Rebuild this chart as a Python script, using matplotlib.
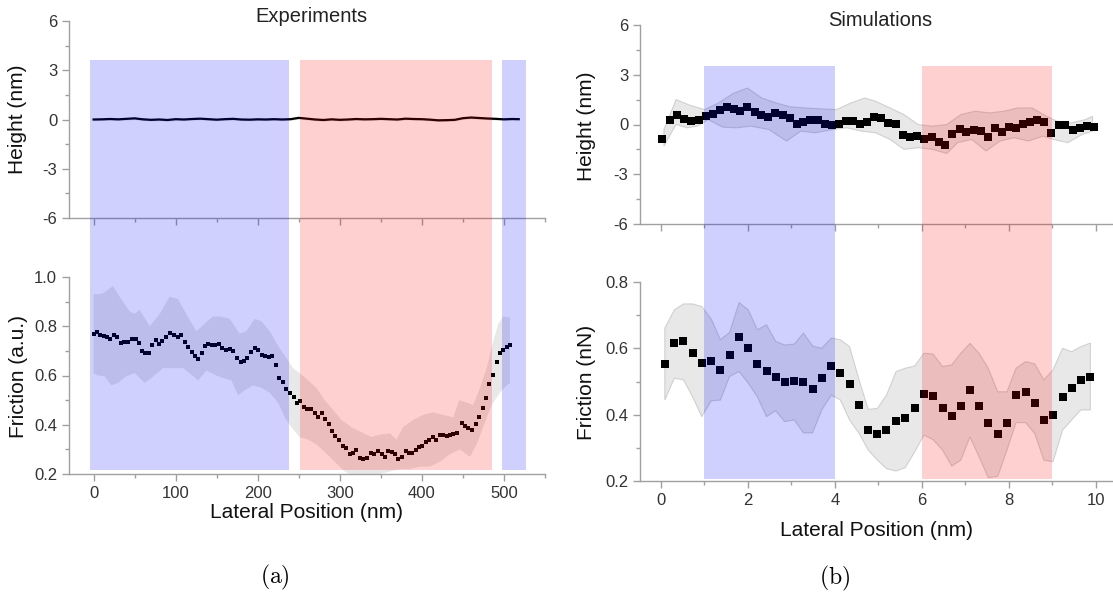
import matplotlib
matplotlib.use("Agg")
import matplotlib.pyplot as plt
from matplotlib.ticker import MultipleLocator
import numpy as np

plt.rcParams.update({
    "font.family": ["Liberation Sans", "DejaVu Sans"],
    "font.size": 12,
    "axes.linewidth": 1.0,
    "axes.edgecolor": "#a0a0a0",
    "axes.unicode_minus": False,
    "xtick.color": "#a0a0a0",
    "ytick.color": "#a0a0a0",
    "xtick.labelcolor": "#333333",
    "ytick.labelcolor": "#333333",
    "xtick.direction": "out",
    "ytick.direction": "out",
    "mathtext.fontset": "cm",
})

W, H = 1113, 592
BLUE = "#0000ff"
RED = "#ff0000"
SPAN_ALPHA = 0.185
BAND_FC = "#c4c4c4"

# ---- Experiments -------------------------------------------------------------
exp_h_x = [0, 10, 20, 30, 40, 50, 60, 70, 80, 90, 100, 110, 120, 130, 140, 150,
           160, 170, 180, 190, 200, 210, 220, 230, 240, 250, 260, 270, 280, 290,
           300, 310, 320, 330, 340, 350, 360, 370, 380, 390, 400, 410, 420, 430,
           440, 450, 460, 470, 480, 490, 500, 510, 518]
exp_h_y = [0.0, 0.01, 0.03, 0.01, 0.04, 0.07, 0.01, -0.02, 0.0, -0.03, 0.02,
           0.0, 0.03, 0.05, 0.02, -0.01, 0.02, 0.04, 0.0, -0.01, 0.01, 0.0, 0.02,
           0.0, 0.02, 0.1, 0.05, 0.0, -0.03, 0.01, -0.02, 0.0, 0.03, 0.01, 0.02,
           0.04, 0.02, 0.0, 0.05, 0.03, 0.02, -0.01, -0.05, -0.04, -0.02, 0.08,
           0.12, 0.09, 0.06, 0.04, 0.01, 0.03, 0.02]

exp_f_x = [0, 4.1, 8.1, 12.2, 16.3, 20.3, 24.4, 28.5, 33.3, 37.4, 42.3, 46.3,
           51.2, 55.3, 58.9, 63.0, 67.5, 71.5, 75.6, 79.7, 83.7, 88.6, 92.7,
           97.6, 102.4, 106.5, 111.4, 115.4, 119.5, 123.6, 127.6, 131.7, 135.8,
           139.8, 143.9, 148.0, 152.8, 156.9, 161.8, 165.9, 169.9, 174.8, 179.3,
           183.3, 187.4, 192.3, 196.3, 200.4, 205.3, 209.4, 213.4, 217.5, 222.0,
           226.0, 230.9, 235.0, 239.4, 243.9, 248.0, 252.0, 256.5, 260.6, 264.6,
           269.5, 273.5, 277.7, 281.7, 286.6, 290.6, 294.7, 299.2, 304.0, 308.1,
           312.2, 316.2, 320.3, 324.4, 328.4, 332.5, 337.4, 341.5, 346.7, 350.8,
           354.9, 359.0, 363.0, 367.1, 371.1, 375.2, 380.1, 384.1, 388.2, 392.3,
           396.3, 400.4, 404.9, 409.0, 413.0, 417.1, 422.0, 426.0, 430.1, 434.1,
           438.2, 442.3, 448.4, 452.4, 456.5, 460.6, 465.5, 469.9, 474.0, 478.0,
           482.1, 487.0, 491.1, 495.1, 499.1, 503.3, 507.3]
exp_f_y = [0.768, 0.775, 0.764, 0.762, 0.755, 0.748, 0.764, 0.755, 0.733, 0.735,
           0.737, 0.747, 0.749, 0.731, 0.701, 0.690, 0.691, 0.724, 0.744, 0.728,
           0.741, 0.757, 0.774, 0.764, 0.757, 0.764, 0.737, 0.717, 0.697, 0.679,
           0.668, 0.690, 0.720, 0.728, 0.722, 0.722, 0.727, 0.710, 0.703, 0.706,
           0.701, 0.670, 0.653, 0.659, 0.672, 0.694, 0.712, 0.703, 0.682, 0.678,
           0.674, 0.679, 0.643, 0.589, 0.575, 0.547, 0.530, 0.511, 0.487, 0.496,
           0.473, 0.465, 0.465, 0.446, 0.433, 0.449, 0.422, 0.402, 0.375, 0.356,
           0.338, 0.315, 0.305, 0.280, 0.284, 0.297, 0.264, 0.261, 0.264, 0.284,
           0.281, 0.295, 0.281, 0.270, 0.292, 0.289, 0.281, 0.260, 0.268, 0.295,
           0.284, 0.284, 0.297, 0.311, 0.314, 0.329, 0.338, 0.351, 0.338, 0.358,
           0.358, 0.354, 0.357, 0.362, 0.365, 0.406, 0.396, 0.386, 0.379, 0.403,
           0.430, 0.467, 0.510, 0.564, 0.602, 0.653, 0.692, 0.703, 0.717, 0.724]

exp_up_x = [0, 5.5, 11.5, 23.6, 31.7, 43.9, 50, 56, 68.3, 80.5, 92.7, 102.8,
            112.9, 125.1, 135.3, 145.4, 153.6, 165.8, 178, 186, 196.3, 204.5,
            214.6, 224.8, 235, 243, 251, 261.3, 271.4, 281.6, 291.8, 301.9, 314,
            326.3, 338.5, 348.8, 361, 369, 377.2, 389.4, 401.6, 413.8, 426,
            438.2, 445.5, 454.5, 462.6, 470.8, 478.9, 487, 493.1, 499.2, 507.3]
exp_up_y = [0.93, 0.93, 0.934, 0.963, 0.92, 0.86, 0.85, 0.867, 0.80, 0.85, 0.92,
            0.91, 0.85, 0.78, 0.81, 0.84, 0.84, 0.83, 0.77, 0.78, 0.83, 0.82,
            0.78, 0.72, 0.67, 0.63, 0.61, 0.58, 0.55, 0.50, 0.46, 0.42, 0.39,
            0.37, 0.35, 0.36, 0.365, 0.34, 0.39, 0.42, 0.44, 0.45, 0.44, 0.43,
            0.50, 0.49, 0.48, 0.55, 0.63, 0.74, 0.81, 0.84, 0.835]
exp_lo_x = [0, 5.5, 13.4, 21.5, 29.7, 39.8, 50, 62.2, 70.3, 84.6, 96.7, 108.9,
            117, 127.2, 137.4, 149.6, 157.7, 168, 176, 184.2, 194.3, 204.5,
            214.6, 224.8, 233, 241, 251, 261.3, 271.4, 281.6, 293.8, 306, 318.2,
            336, 348.8, 361, 373, 385.3, 397.5, 409.7, 421.9, 434, 446.3, 458.5,
            466.7, 476.9, 485, 495.1, 503.3, 507.3]
exp_lo_y = [0.609, 0.60, 0.597, 0.56, 0.57, 0.597, 0.61, 0.57, 0.59, 0.63, 0.63,
            0.63, 0.61, 0.58, 0.62, 0.60, 0.59, 0.58, 0.52, 0.54, 0.56, 0.55,
            0.53, 0.49, 0.43, 0.39, 0.35, 0.34, 0.32, 0.29, 0.25, 0.21, 0.19,
            0.19, 0.20, 0.21, 0.22, 0.22, 0.23, 0.23, 0.25, 0.28, 0.30, 0.27,
            0.32, 0.41, 0.48, 0.53, 0.56, 0.57]

exp_blue = [(-4.5, 237.5), (497, 527)]
exp_red = [(251, 486)]

# ---- Simulations -------------------------------------------------------------
sim_h_x = [0.02, 0.20, 0.37, 0.53, 0.70, 0.87, 1.04, 1.20, 1.37, 1.52, 1.68,
           1.83, 1.99, 2.16, 2.30, 2.47, 2.63, 2.80, 2.96, 3.12, 3.28, 3.44,
           3.61, 3.78, 3.93, 4.10, 4.26, 4.43, 4.59, 4.75, 4.91, 5.07, 5.23,
           5.40, 5.56, 5.73, 5.90, 6.06, 6.23, 6.39, 6.54, 6.70, 6.87, 7.03,
           7.20, 7.36, 7.52, 7.69, 7.84, 8.01, 8.17, 8.34, 8.49, 8.65, 8.82,
           8.98, 9.15, 9.30, 9.47, 9.63, 9.80, 9.96]
sim_h_y = [-0.86, 0.26, 0.60, 0.36, 0.22, 0.30, 0.50, 0.66, 0.90, 1.07, 0.96,
           0.84, 1.07, 0.76, 0.60, 0.44, 0.70, 0.60, 0.38, 0.02, 0.16, 0.26,
           0.30, 0.06, -0.04, 0.06, 0.20, 0.20, 0.04, 0.18, 0.44, 0.38, 0.10,
           0.02, -0.64, -0.74, -0.70, -0.90, -0.78, -1.07, -1.21, -0.56, -0.30,
           -0.44, -0.36, -0.40, -0.74, -0.20, -0.44, -0.16, -0.20, 0.04, 0.16,
           0.30, 0.14, -0.54, -0.04, -0.04, -0.36, -0.20, -0.10, -0.16]

sim_hu_x = [0.07, 0.35, 0.68, 1.01, 1.33, 1.66, 1.99, 2.32, 2.65, 2.97, 3.30,
            3.63, 4.04, 4.37, 4.69, 4.94, 5.27, 5.59, 5.92, 6.25, 6.58, 6.90,
            7.23, 7.56, 7.89, 8.21, 8.54, 8.87, 9.11, 9.44, 9.77, 9.93]
sim_hu_y = [-0.3, 1.5, 1.15, 0.9, 1.3, 1.87, 2.2, 1.6, 1.3, 1.07, 1.0, 0.95,
            0.9, 1.3, 1.6, 1.4, 1.0, 0.6, 0.0, -0.1, 0.0, 0.6, 0.8, 0.7, 0.8,
            1.0, 1.0, 0.5, 0.2, 0.1, 0.3, 0.5]
sim_hl_x = [0.07, 0.35, 0.60, 0.84, 1.09, 1.42, 1.74, 2.07, 2.48, 2.89, 3.22,
            3.55, 3.96, 4.28, 4.61, 4.94, 5.27, 5.59, 5.92, 6.25, 6.58, 6.82,
            7.15, 7.48, 7.80, 8.13, 8.46, 8.79, 9.03, 9.36, 9.69, 9.93]
sim_hl_y = [-1.3, 0.0, -0.2, -0.1, 0.3, -0.16, -0.2, -0.1, -0.3, -1.0, -0.4,
            -0.5, -0.3, -0.2, -0.4, -0.5, -0.9, -1.5, -1.4, -1.5, -1.75, -1.1,
            -0.9, -1.6, -1.0, -0.8, -1.0, -0.7, -0.9, -1.1, -0.6, -0.4]

sim_f_x = [0.09, 0.31, 0.52, 0.73, 0.94, 1.16, 1.37, 1.58, 1.80, 2.01, 2.22,
           2.43, 2.64, 2.85, 3.07, 3.28, 3.49, 3.70, 3.92, 4.13, 4.34, 4.56,
           4.77, 4.98, 5.19, 5.41, 5.62, 5.84, 6.05, 6.26, 6.48, 6.69, 6.90,
           7.11, 7.32, 7.53, 7.75, 7.96, 8.17, 8.39, 8.60, 8.81, 9.02, 9.24,
           9.45, 9.66, 9.88]
sim_f_y = [0.552, 0.616, 0.621, 0.587, 0.557, 0.561, 0.535, 0.580, 0.634, 0.601,
           0.552, 0.532, 0.515, 0.497, 0.502, 0.497, 0.478, 0.510, 0.547, 0.526,
           0.492, 0.429, 0.354, 0.341, 0.353, 0.382, 0.389, 0.419, 0.461, 0.455,
           0.421, 0.397, 0.426, 0.474, 0.425, 0.374, 0.342, 0.375, 0.458, 0.468,
           0.436, 0.383, 0.398, 0.453, 0.481, 0.506, 0.515]
sim_f_up = [0.661, 0.716, 0.734, 0.734, 0.726, 0.688, 0.626, 0.648, 0.738, 0.716,
            0.656, 0.671, 0.621, 0.610, 0.613, 0.646, 0.607, 0.600, 0.631, 0.626,
            0.605, 0.505, 0.416, 0.419, 0.459, 0.530, 0.540, 0.547, 0.585, 0.583,
            0.545, 0.550, 0.585, 0.615, 0.585, 0.540, 0.469, 0.469, 0.540, 0.560,
            0.553, 0.505, 0.535, 0.600, 0.590, 0.605, 0.616]
sim_f_lo = [0.444, 0.510, 0.505, 0.454, 0.394, 0.442, 0.444, 0.515, 0.530, 0.495,
            0.454, 0.394, 0.412, 0.379, 0.384, 0.345, 0.345, 0.414, 0.459, 0.444,
            0.384, 0.343, 0.293, 0.263, 0.237, 0.230, 0.240, 0.288, 0.338, 0.325,
            0.293, 0.245, 0.263, 0.333, 0.273, 0.210, 0.214, 0.293, 0.376, 0.376,
            0.343, 0.263, 0.258, 0.353, 0.384, 0.414, 0.414]

sim_blue = [(1.0, 4.0)]
sim_red = [(6.0, 9.0)]


def rect(x0, y_top, x1, y_bot):
    """pixel box -> figure fraction [l, b, w, h]"""
    return [x0 / W, 1 - y_bot / H, (x1 - x0) / W, (y_bot - y_top) / H]


def ftext(x, y, s, **kw):
    # text placed by pixel position (from top-left), centred
    return fig.text(x / W, 1 - y / H, s, ha="center", va="center", **kw)


def style(ax, xlim, xmaj, xmin, ylim, ymaj, ymin, xlabels=True):
    ax.set_xlim(*xlim)
    ax.set_ylim(*ylim)
    ax.patch.set_visible(False)
    for s in ("top", "right"):
        ax.spines[s].set_visible(False)
    ax.xaxis.set_major_locator(MultipleLocator(xmaj))
    ax.xaxis.set_minor_locator(MultipleLocator(xmin))
    ax.yaxis.set_major_locator(MultipleLocator(ymaj))
    ax.yaxis.set_minor_locator(MultipleLocator(ymin))
    ax.tick_params(which="major", length=5, width=1.0, labelsize=12)
    ax.tick_params(which="minor", length=3, width=1.0)
    if not xlabels:
        ax.tick_params(axis="x", labelbottom=False)


def band(ax, xu, yu, xl, yl, edge="none"):
    xs = np.r_[xu, xl[::-1]]
    ys = np.r_[yu, yl[::-1]]
    ax.fill(xs, ys, facecolor=BAND_FC, alpha=0.38, edgecolor=edge, lw=0.8,
            zorder=1)


def spans(box, xlim, blues, reds):
    ov = fig.add_axes(box)
    ov.set_xlim(*xlim)
    ov.set_ylim(0, 1)
    ov.axis("off")
    for a, b in blues:
        ov.axvspan(a, b, color=BLUE, alpha=SPAN_ALPHA, lw=0)
    for a, b in reds:
        ov.axvspan(a, b, color=RED, alpha=SPAN_ALPHA, lw=0)


fig = plt.figure(figsize=(W / 100, H / 100), dpi=100)
LBL = dict(fontsize=15, color="#111111")

# ---- (a) experiments
exlim = (-30, 550)
a_top = fig.add_axes(rect(69, 21, 545, 218))
a_bot = fig.add_axes(rect(69, 277, 545, 474))
style(a_top, exlim, 100, 50, (-6, 6), 3, 1.5, xlabels=False)
style(a_bot, exlim, 100, 50, (0.2, 1.0), 0.2, 0.1)
a_top.fill_between(exp_h_x, np.array(exp_h_y) - 0.07, np.array(exp_h_y) + 0.07,
                   color=BAND_FC, alpha=0.5, lw=0)
a_top.plot(exp_h_x, exp_h_y, color="black", lw=1.6, zorder=2)
band(a_bot, exp_up_x, exp_up_y, exp_lo_x, exp_lo_y)
a_bot.plot(exp_f_x, exp_f_y, "s", color="black", ms=2.9, mew=0, zorder=3)
spans(rect(69, 60, 545, 470), exlim, exp_blue, exp_red)

ftext(311, 16, "Experiments", fontsize=14.5, color="#222222")
ftext(18, 119, "Height (nm)", rotation=90, **LBL)
ftext(19, 376, "Friction (a.u.)", rotation=90, **LBL)
ftext(307, 512, "Lateral Position (nm)", **LBL)

# ---- (b) simulations
sxlim = (-0.48, 10.4)
b_top = fig.add_axes(rect(640, 25, 1113, 224))
b_bot = fig.add_axes(rect(640, 282, 1113, 481))
style(b_top, sxlim, 2, 1, (-6, 6), 3, 1.5, xlabels=False)
style(b_bot, sxlim, 2, 1, (0.2, 0.8), 0.2, 0.1)
band(b_top, sim_hu_x, sim_hu_y, sim_hl_x, sim_hl_y, edge="#9a9a9a")
b_top.plot(sim_h_x, sim_h_y, "s", color="black", ms=5.5, mew=0, zorder=3)
band(b_bot, sim_f_x, sim_f_up, sim_f_x, sim_f_lo, edge="#9a9a9a")
b_bot.plot(sim_f_x, sim_f_y, "s", color="black", ms=6, mew=0, zorder=3)
spans(rect(640, 66, 1113, 479), sxlim, sim_blue, sim_red)

ftext(880, 20, "Simulations", fontsize=14.5, color="#222222")
ftext(586, 126, "Height (nm)", rotation=90, **LBL)
ftext(587, 382, "Friction (nN)", rotation=90, **LBL)
ftext(876, 531, "Lateral Position (nm)", **LBL)

ftext(275, 577, r"$\mathrm{(a)}$", fontsize=17)
ftext(835, 578, r"$\mathrm{(b)}$", fontsize=17)

fig.savefig("out.png", dpi=100)
